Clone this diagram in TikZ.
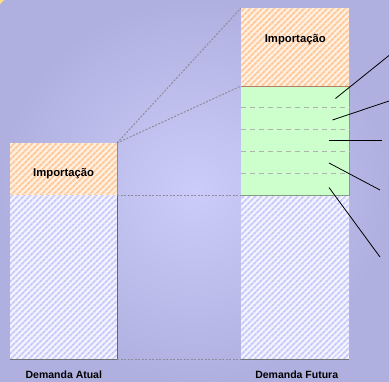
\documentclass[tikz,border=0pt]{standalone}
\usepackage{fontspec}
\setmainfont{Liberation Sans}
\usetikzlibrary{patterns.meta}
\definecolor{bgin}{HTML}{CCCCFA}
\definecolor{bgout}{HTML}{B0B0E0}
\definecolor{orst}{HTML}{FFC898}
\definecolor{orbg}{HTML}{FFF0E2}
\definecolor{blst}{HTML}{C8C8FA}
\definecolor{blbg}{HTML}{F4F4FF}
\definecolor{grfill}{HTML}{CCFFCC}
\definecolor{grline}{HTML}{80A080}
\definecolor{brline}{HTML}{B08060}
\definecolor{guidec}{HTML}{8C8C9C}
\tikzset{
  orhatch/.style={pattern={Lines[angle=45,distance=4pt,line width=2pt]},pattern color=orst},
  blhatch/.style={pattern={Lines[angle=45,distance=4pt,line width=2pt]},pattern color=blst},
  guide/.style={draw=guidec,dash pattern=on 2pt off 1.5pt,line width=1pt},
  sep/.style={draw=black!30,dash pattern=on 5pt off 4pt,line width=0.9pt},
  callout/.style={draw=black,line width=0.8pt},
  lbl/.style={font=\bfseries\fontsize{10.5}{12}\selectfont,inner sep=0pt},
  imp/.style={font=\bfseries\fontsize{11.3}{13}\selectfont,inner sep=0pt}
}
\begin{document}
\begin{tikzpicture}[x=1pt,y=-1pt]
\useasboundingbox (0,0) rectangle (389,381);
% background
\shade[inner color=bgin,outer color=bgout] (0,0) rectangle (389,381);
\fill[yellow!60!orange!50] (0,0) -- (4,0) -- (0,4) -- cycle;
% left bar
\fill[orbg] (10,143) rectangle (117,195);
\fill[orhatch] (10,143) rectangle (117,195);
\fill[blbg] (10,195) rectangle (117,359);
\fill[blhatch] (10,195) rectangle (117,359);
\draw[brline,line width=0.8pt] (117,143) -- (117,195);
\draw[black!60,line width=0.8pt] (117,195) -- (117,359);
\draw[black!55,line width=0.8pt] (10,359) -- (117,359);
% right bar
\fill[orbg] (241,8) rectangle (349,86);
\fill[orhatch] (241,8) rectangle (349,86);
\fill[grfill] (241,86) rectangle (349,195);
\fill[blbg] (241,195) rectangle (349,359);
\fill[blhatch] (241,195) rectangle (349,359);
\draw[grline,line width=0.8pt] (349,86) -- (349,195) -- (241,195);
\draw[brline,line width=0.8pt] (241,86) -- (349,86);
\draw[black!55,line width=0.8pt] (241,359) -- (349,359);
% named coordinates
\coordinate (LT) at (117,143);
\coordinate (LM) at (117,195);
\coordinate (LB) at (117,359);
\coordinate (RT) at (241,8);
\coordinate (RG) at (241,86);
\coordinate (RM) at (241,195);
\coordinate (RB) at (241,359);
\draw[guide] (LT) -- (RT);
\draw[guide] (LT) -- (RG);
\draw[guide] (LM) -- (RM);
\draw[guide] (LB) -- (RB);
% separators in green
\foreach \y in {107.5,129,151,173}{
  \draw[sep] (241,\y) -- (350,\y);
}
% callouts
\coordinate (a1) at (335.5,98.5);  \coordinate (b1) at (389,55.5);
\coordinate (a2) at (332.5,120);   \coordinate (b2) at (389,101);
\coordinate (a3) at (329,140.5);   \coordinate (b3) at (382,140.5);
\coordinate (a4) at (329,163);     \coordinate (b4) at (380,190);
\coordinate (a5) at (329,187.5);   \coordinate (b5) at (380,257);
\foreach \i in {1,...,5}{ \draw[callout] (a\i) -- (b\i); }
% texts
\node[imp] (impL) at (63.7,174) {Importação};
\node[imp] (impR) at (295.3,39.5) {Importação};
\node[lbl] (labL) at (63.8,375) {Demanda Atual};
\node[lbl] (labR) at (296.7,375) {Demanda Futura};
\end{tikzpicture}
\end{document}
